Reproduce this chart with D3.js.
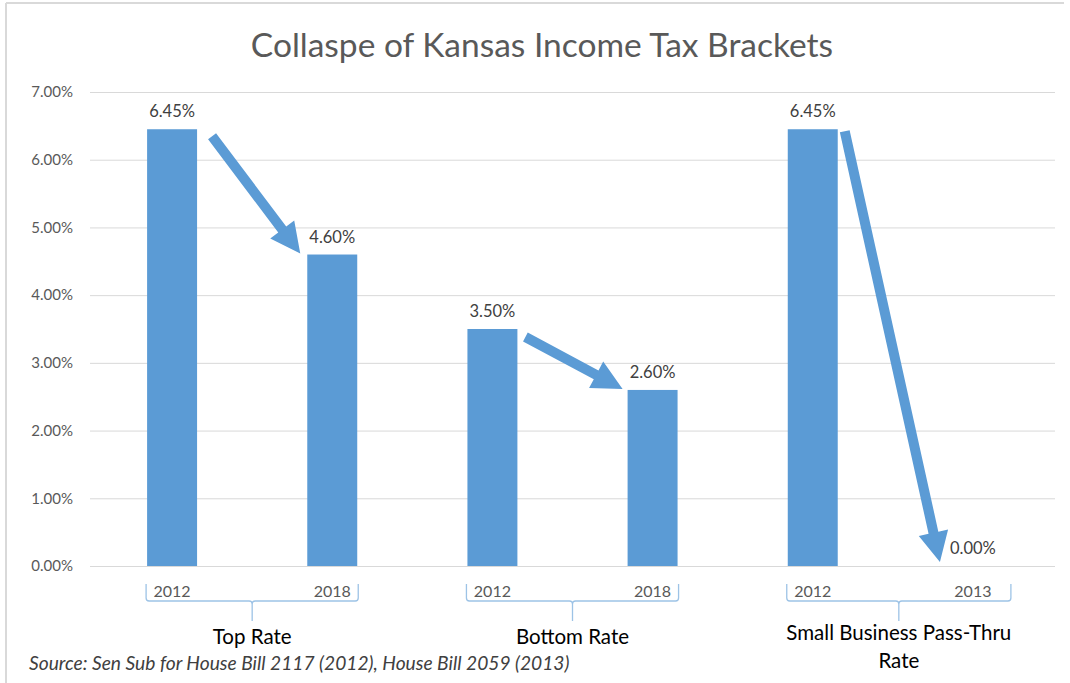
<!DOCTYPE html>
<html>
<head>
<meta charset="utf-8">
<script src="https://cdn.jsdelivr.net/npm/d3@7"></script>
<style>
  html, body { margin: 0; padding: 0; background: #fff; }
  svg { display: block; font-family: Lato, "Open Sans", sans-serif; }
</style>
</head>
<body>
<svg id="chart" width="1070" height="683"></svg>
<script>
// ---- data ----
const categories = ["Top Rate|2012", "Top Rate|2018", "Bottom Rate|2012", "Bottom Rate|2018", "Small Business Pass-Thru Rate|2012", "Small Business Pass-Thru Rate|2013"];
const years = ["2012", "2018", "2012", "2018", "2012", "2013"];
const groups = ["Top Rate", "Bottom Rate", "Small Business Pass-Thru Rate"];
const groupLines = [["Top Rate"], ["Bottom Rate"], ["Small Business Pass-Thru", "Rate"]];
const values = [0.0645, 0.046, 0.035, 0.026, 0.0645, 0.0];
const yTicks = [0, 0.01, 0.02, 0.03, 0.04, 0.05, 0.06, 0.07];
const arrowPairs = [[0, 1], [2, 3], [4, 5]];
const title = "Collaspe of Kansas Income Tax Brackets";
const source = "Source: Sen Sub for House Bill 2117 (2012), House Bill 2059 (2013)";

// ---- layout ----
const svg = d3.select("#chart");
const blue = "#5b9bd5";
const braceColor = "#9dc3e6";
const grid = { left: 90, right: 1055 };

const x = d3.scaleBand().domain(categories).range([92, 1053]).paddingInner(0.688).paddingOuter(0.344);
const y = d3.scaleLinear().domain([0, 0.07]).range([566, 92]);
const pct = d3.format(".2%");

// outer frame
svg.append("line").attr("x1", 6).attr("x2", 6).attr("y1", 3).attr("y2", 683).attr("stroke", "#d9d9d9").attr("stroke-width", 2);
svg.append("line").attr("x1", 6).attr("x2", 1064).attr("y1", 3).attr("y2", 3).attr("stroke", "#d9d9d9").attr("stroke-width", 2);

// title
svg.append("text").attr("x", 542).attr("y", 57).attr("text-anchor", "middle")
  .attr("font-size", 33.5).attr("fill", "#595959").text(title);

// gridlines + y labels
const yAxis = d3.axisLeft(y).tickValues(yTicks).tickFormat(pct).tickSize(-(grid.right - grid.left)).tickPadding(17);
const ga = svg.append("g").attr("transform", `translate(${grid.left},0)`).call(yAxis);
ga.select(".domain").remove();
ga.selectAll(".tick line").attr("stroke", "#d9d9d9").attr("stroke-width", 1);
ga.selectAll(".tick text").attr("fill", "#595959").attr("font-size", 15).attr("font-family", "Lato, 'Open Sans', sans-serif");

// bars
svg.append("g").selectAll("rect").data(values).join("rect")
  .attr("x", (d, i) => x(categories[i]))
  .attr("width", x.bandwidth())
  .attr("y", d => y(d))
  .attr("height", d => y(0) - y(d))
  .attr("fill", blue);

// data labels
svg.append("g").selectAll("text").data(values).join("text")
  .attr("x", (d, i) => x(categories[i]) + x.bandwidth() / 2)
  .attr("y", d => y(d) - 12)
  .attr("text-anchor", "middle").attr("font-size", 16.5).attr("fill", "#404040")
  .text(d => pct(d));

// year labels
svg.append("g").selectAll("text").data(years).join("text")
  .attr("x", (d, i) => x(categories[i]) + x.bandwidth() / 2)
  .attr("y", 597)
  .attr("text-anchor", "middle").attr("font-size", 16).attr("fill", "#595959")
  .text(d => d);

// group braces and labels
groups.forEach((g, gi) => {
  const a = categories[gi * 2], b = categories[gi * 2 + 1];
  const x0 = x(a) - 1, x1 = x(b) + x.bandwidth() + 1 + (gi === 2 ? 12 : 0);
  const xm = (x0 + x1) / 2;
  const top = 584, mid = 601, tip = 621;
  const p = d3.path();
  p.moveTo(x0, top); p.lineTo(x0, mid - 3); p.quadraticCurveTo(x0, mid, x0 + 3, mid);
  p.lineTo(xm - 3, mid); p.quadraticCurveTo(xm, mid, xm, mid + 3); p.lineTo(xm, tip);
  p.moveTo(xm, mid + 3); p.quadraticCurveTo(xm, mid, xm + 3, mid);
  p.lineTo(x1 - 3, mid); p.quadraticCurveTo(x1, mid, x1, mid - 3); p.lineTo(x1, top);
  svg.append("path").attr("d", p.toString()).attr("fill", "none").attr("stroke", braceColor).attr("stroke-width", 1.3);
  const lines = groupLines[gi];
  const t = svg.append("text").attr("text-anchor", "middle").attr("font-size", 20.5).attr("fill", "#000");
  lines.forEach((ln, li) => {
    t.append("tspan").attr("x", xm).attr("y", (lines.length > 1 ? 640 : 644) + li * 28).text(ln);
  });
});

// arrows
const arrowOffsets = [
  { sx: 15, sy: 7, ex: -7, ey: -1 },
  { sx: 8, sy: 8, ex: -5, ey: -1 },
  { sx: 7, sy: 2, ex: -8, ey: -4 }
];
function arrowPoly(sx, sy, ex, ey, shaft, headW, headL) {
  const dx = ex - sx, dy = ey - sy, L = Math.hypot(dx, dy);
  const ux = dx / L, uy = dy / L, nx = -uy, ny = ux;
  const bx = ex - ux * headL, by = ey - uy * headL;
  const pts = [
    [sx + nx * shaft / 2, sy + ny * shaft / 2],
    [bx + nx * shaft / 2, by + ny * shaft / 2],
    [bx + nx * headW / 2, by + ny * headW / 2],
    [ex, ey],
    [bx - nx * headW / 2, by - ny * headW / 2],
    [bx - nx * shaft / 2, by - ny * shaft / 2],
    [sx - nx * shaft / 2, sy - ny * shaft / 2]
  ];
  return pts.map(p => p.join(",")).join(" ");
}
arrowPairs.forEach(([a, b], i) => {
  const o = arrowOffsets[i];
  const sx = x(categories[a]) + x.bandwidth() + o.sx, sy = y(values[a]) + o.sy;
  const ex = x(categories[b]) + o.ex, ey = y(values[b]) + o.ey;
  svg.append("polygon").attr("points", arrowPoly(sx, sy, ex, ey, 10, 30, 30)).attr("fill", blue);
});

// source
svg.append("text").attr("x", 29).attr("y", 670).attr("font-size", 19.2).attr("font-style", "italic")
  .attr("fill", "#404040").text(source);
</script>
</body>
</html>
